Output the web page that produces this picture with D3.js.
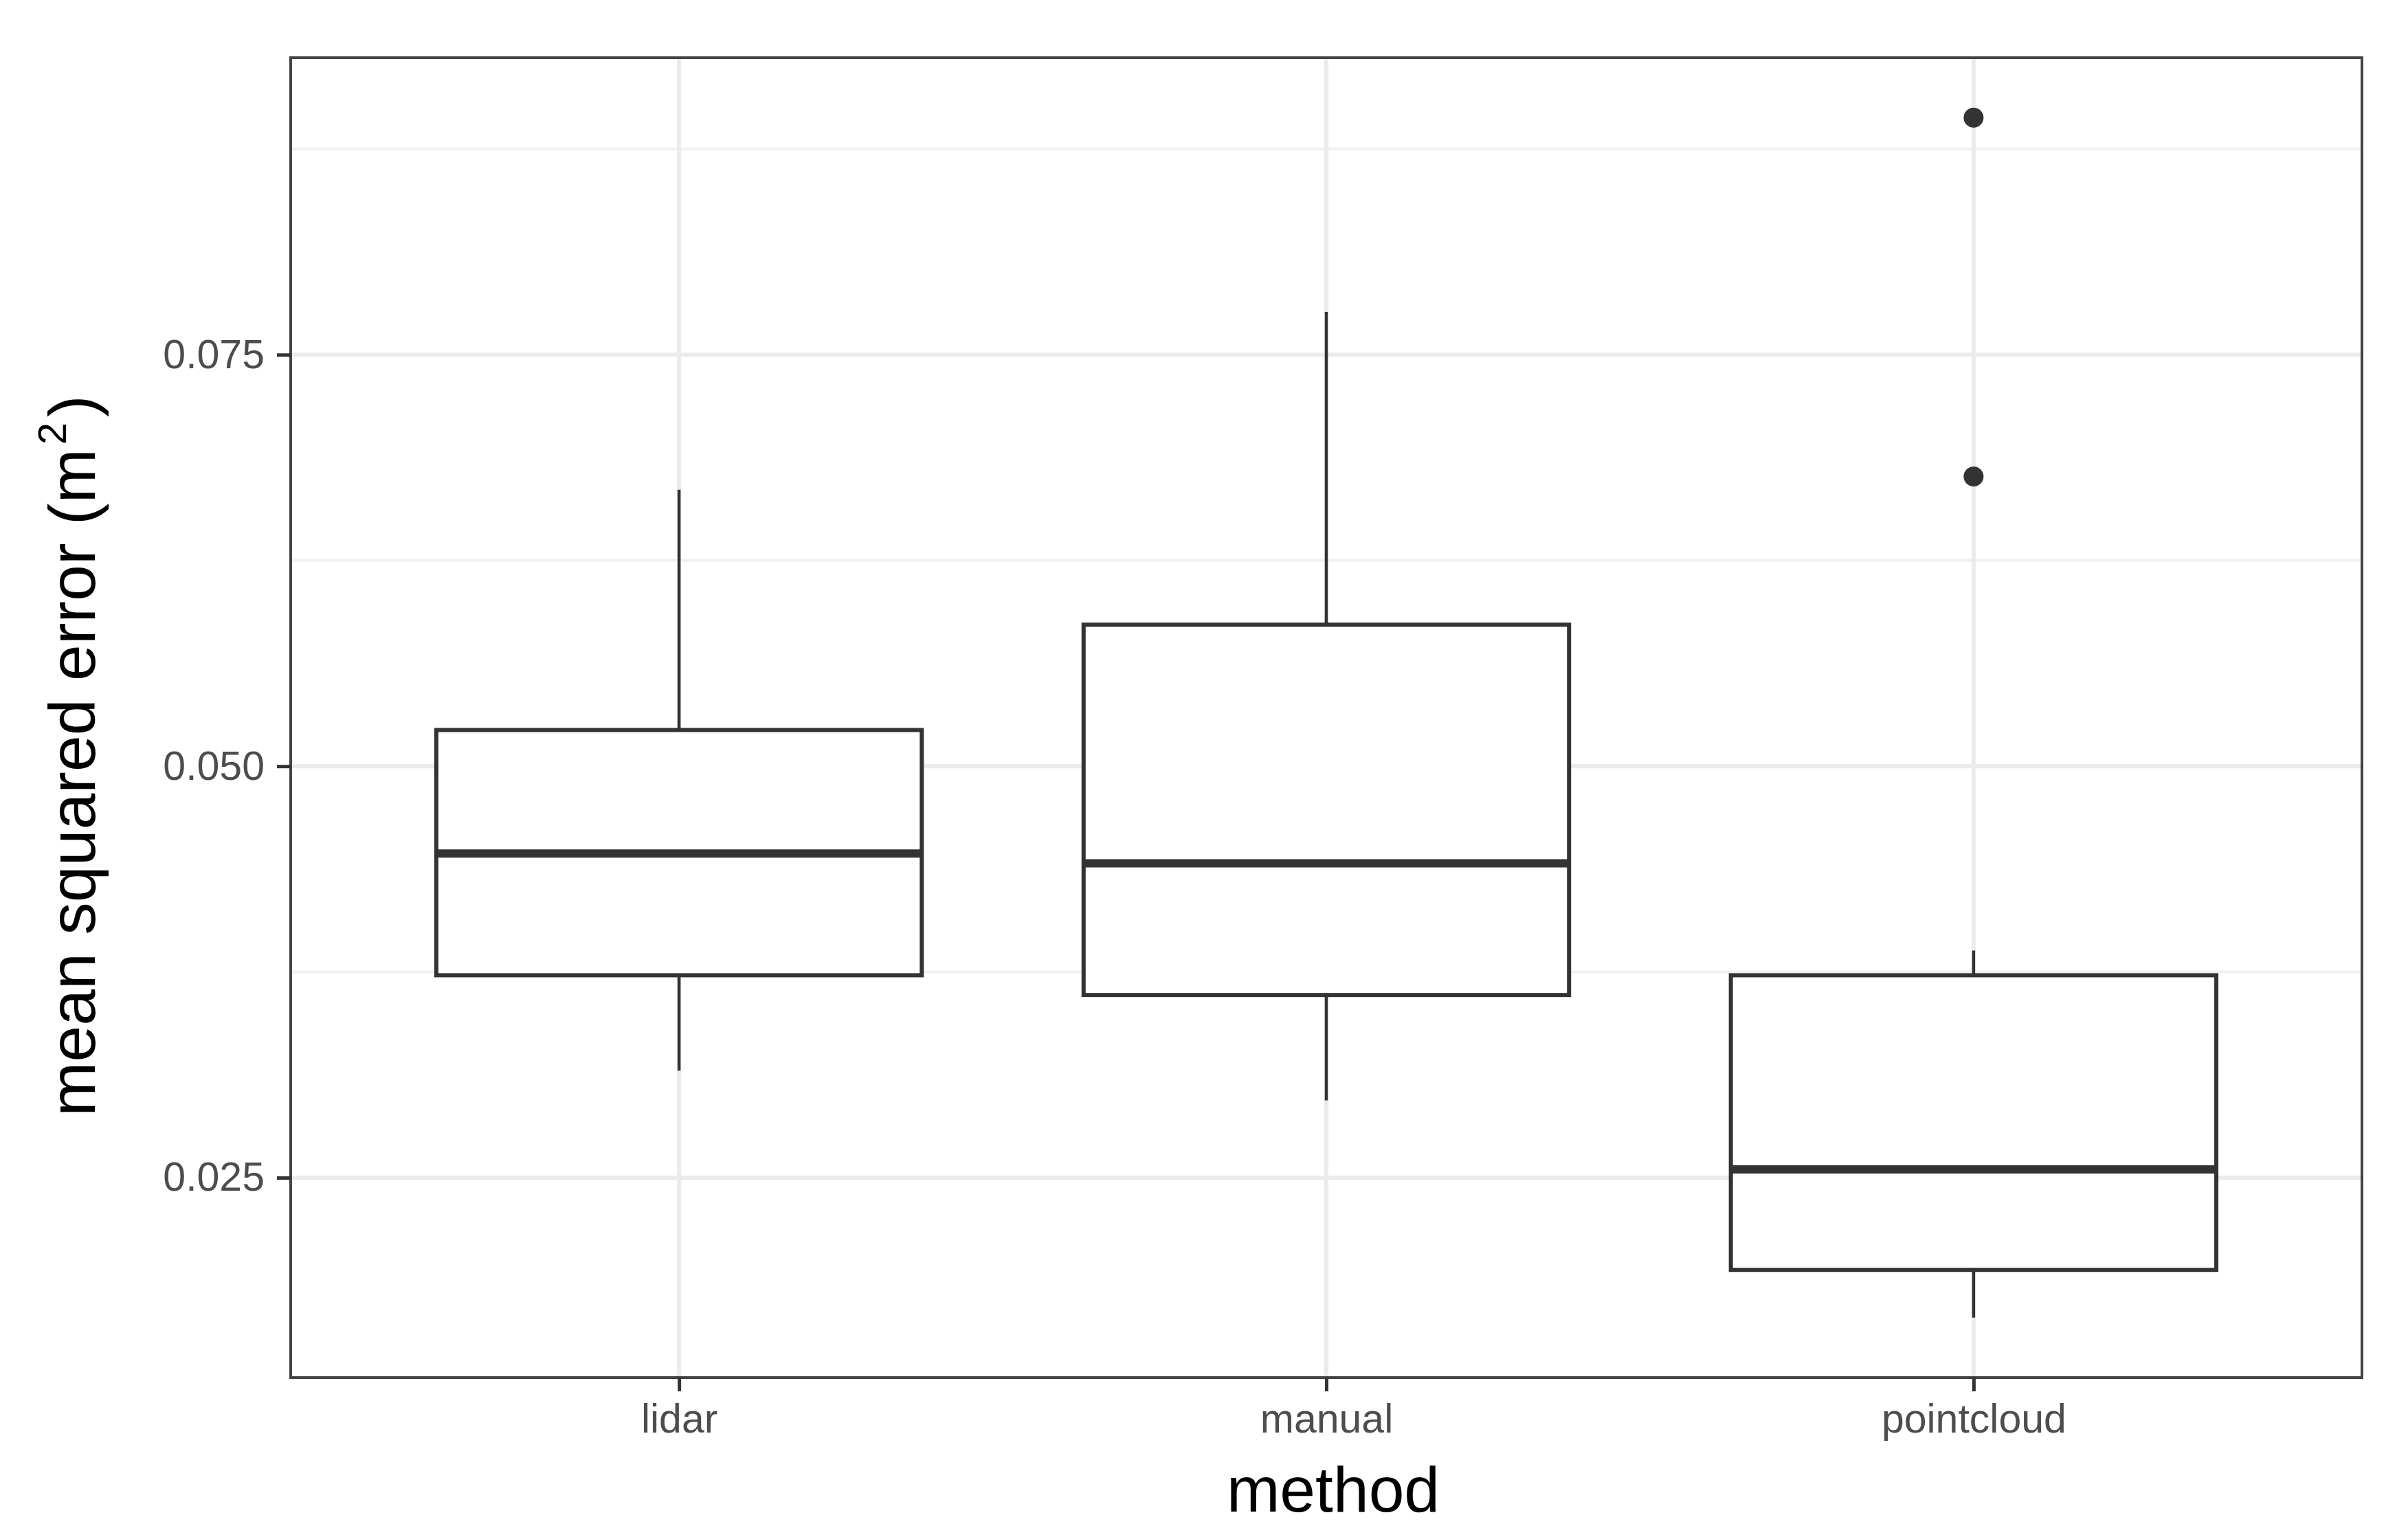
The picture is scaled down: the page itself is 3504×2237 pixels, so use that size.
<!DOCTYPE html>
<html>
<head>
<meta charset="utf-8">
<script src="https://cdn.jsdelivr.net/npm/d3@7"></script>
<style>
  body { margin: 0; background: #fff; }
  svg { display: block; font-family: "Liberation Sans", Arial, sans-serif; }
</style>
</head>
<body>
<svg id="chart"></svg>
<script>
// box stats
const methods = ["lidar", "manual", "pointcloud"];
const whiskerLow = [0.0315, 0.0297, 0.0165];
const q1 = [0.0373, 0.0361, 0.0194];
const median = [0.0447, 0.0441, 0.0255];
const q3 = [0.0522, 0.0586, 0.0373];
const whiskerHigh = [0.0668, 0.0776, 0.0388];
const outlierMethod = ["pointcloud", "pointcloud"];
const outlierValue = [0.0894, 0.0676];
const yTicks = [0.025, 0.050, 0.075];
const yMinor = [0.0375, 0.0625, 0.0875];

const width = 3504, height = 2237;
const margin = {top: 84, right: 67, bottom: 232, left: 423};
const iw = width - margin.left - margin.right;
const ih = height - margin.top - margin.bottom;

const svg = d3.select("#chart").attr("width", width).attr("height", height);
const g = svg.append("g").attr("transform", `translate(${margin.left},${margin.top})`);

const x = d3.scalePoint().domain(methods).range([0, iw]).padding(0.6);

// ggplot style 5% expansion
const lo = d3.min(whiskerLow), hi = d3.max(outlierValue);
const pad = (hi - lo) * 0.05;
const y = d3.scaleLinear().domain([lo - pad, hi + pad]).range([ih, 0]);

const boxW = x.step() * 0.75;
const dark = "#333333";

// grid
g.selectAll(".minor").data(yMinor).join("line")
  .attr("x1", 0).attr("x2", iw)
  .attr("y1", d => y(d)).attr("y2", d => y(d))
  .attr("stroke", "#f0f0f0").attr("stroke-width", 4);
g.selectAll(".major").data(yTicks).join("line")
  .attr("x1", 0).attr("x2", iw)
  .attr("y1", d => y(d)).attr("y2", d => y(d))
  .attr("stroke", "#ebebeb").attr("stroke-width", 6);
g.selectAll(".vgrid").data(methods).join("line")
  .attr("x1", d => x(d)).attr("x2", d => x(d))
  .attr("y1", 0).attr("y2", ih)
  .attr("stroke", "#ebebeb").attr("stroke-width", 6);

// boxes
const boxes = g.selectAll(".box").data(methods).join("g");
boxes.append("line")
  .attr("x1", d => x(d)).attr("x2", d => x(d))
  .attr("y1", (d, i) => y(q3[i])).attr("y2", (d, i) => y(whiskerHigh[i]))
  .attr("stroke", dark).attr("stroke-width", 4.5);
boxes.append("line")
  .attr("x1", d => x(d)).attr("x2", d => x(d))
  .attr("y1", (d, i) => y(q1[i])).attr("y2", (d, i) => y(whiskerLow[i]))
  .attr("stroke", dark).attr("stroke-width", 4.5);
boxes.append("rect")
  .attr("x", d => x(d) - boxW / 2).attr("width", boxW)
  .attr("y", (d, i) => y(q3[i])).attr("height", (d, i) => y(q1[i]) - y(q3[i]))
  .attr("fill", "#fff").attr("stroke", dark).attr("stroke-width", 6);
boxes.append("line")
  .attr("x1", d => x(d) - boxW / 2).attr("x2", d => x(d) + boxW / 2)
  .attr("y1", (d, i) => y(median[i])).attr("y2", (d, i) => y(median[i]))
  .attr("stroke", dark).attr("stroke-width", 12);

g.selectAll(".outlier").data(outlierValue).join("circle")
  .attr("cx", (d, i) => x(outlierMethod[i]))
  .attr("cy", d => y(d))
  .attr("r", 14.5)
  .attr("fill", dark);

// panel border
g.append("rect").attr("width", iw).attr("height", ih)
  .attr("fill", "none").attr("stroke", "#444").attr("stroke-width", 4);

// axes
const yAxis = g.append("g")
  .call(d3.axisLeft(y).tickValues(yTicks).tickFormat(d3.format(".3f")).tickSize(20).tickPadding(18));
const xAxis = g.append("g").attr("transform", `translate(0,${ih})`)
  .call(d3.axisBottom(x).tickSize(20).tickPadding(18));
[yAxis, xAxis].forEach(a => {
  a.select(".domain").remove();
  a.selectAll(".tick line").attr("stroke", dark).attr("stroke-width", 5);
  a.selectAll(".tick text").attr("fill", "#4d4d4d")
    .style("font-size", "59px").style("font-family", "'Liberation Sans', Arial, sans-serif");
});

// titles
svg.append("text")
  .attr("x", margin.left + iw / 2 + 10).attr("y", 2200)
  .attr("text-anchor", "middle")
  .style("font-size", "93px").attr("fill", "#000")
  .text("method");

const yt = svg.append("text")
  .attr("transform", "translate(138,1100) rotate(-90)")
  .attr("text-anchor", "middle")
  .style("font-size", "95px").attr("fill", "#000");
yt.append("tspan").text("mean squared error (m");
yt.append("tspan").text("2").style("font-size", "58px").attr("dx", "6").attr("dy", "-42");
yt.append("tspan").text(")").attr("dx", "8").attr("dy", "42");
</script>
</body>
</html>
